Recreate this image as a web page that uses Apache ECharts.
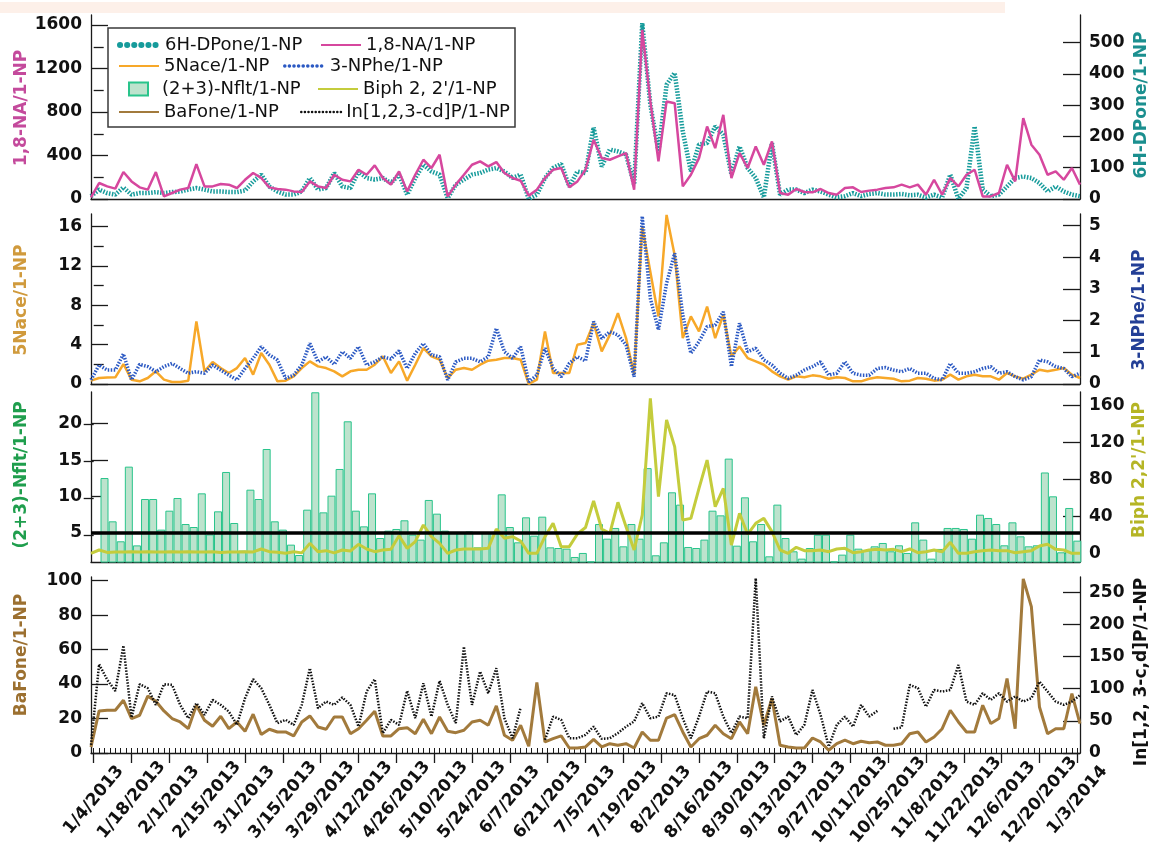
<!DOCTYPE html>
<html>
<head>
<meta charset="utf-8">
<script src="https://cdn.jsdelivr.net/npm/echarts@6/dist/echarts.min.js"></script>
<style>
  html, body { margin: 0; padding: 0; background: #fff; }
  #chart { width: 1161px; height: 852px; }
</style>
</head>
<body>
<div id="chart"></div>
<script>
// samples every 3 days; day 0 = 1/4/2013
const lineStart = -1, barStart = 4, step = 3;

// panel 1
const na18 = [15,147,116,95,248,162,107,86,248,24,
  55,86,101,321,116,116,138,132,101,177,
  239,193,107,92,86,70,64,162,116,101,
  223,177,162,269,223,309,193,132,254,70,
  223,361,285,407,24,132,223,315,346,300,
  340,239,193,168,31,86,193,269,285,107,
  162,269,545,376,361,392,422,86,1555,897,
  346,897,881,116,223,376,667,468,774,193,
  422,285,483,315,529,55,40,92,64,61,
  92,55,40,101,107,64,77,86,101,107,
  132,107,132,40,177,40,193,116,223,269,
  24,24,55,315,162,744,499,407,223,254,
  177,285,132];
const dpone = [9,30,19,14,37,14,19,19,22,19,
  22,24,30,35,30,24,24,22,22,27,
  56,78,40,24,14,14,24,67,30,35,
  83,40,35,88,67,62,67,51,78,14,
  67,110,88,78,3,46,62,78,83,94,
  99,88,67,78,0,14,67,99,112,40,
  88,83,229,104,158,152,142,46,562,301,
  152,365,403,216,88,174,179,232,206,78,
  168,99,67,5,179,14,30,30,19,30,
  24,14,5,9,19,9,16,19,14,14,
  16,12,14,5,14,5,78,0,35,232,
  30,9,14,40,67,72,67,51,24,40,
  24,14,9];

// panel 2
const nace = [0.34,0.61,0.65,0.68,2.03,0.44,0.27,0.61,1.29,0.44,
  0.2,0.2,0.34,6.36,1.29,2.23,1.62,1.12,1.62,2.64,
  0.95,3.15,1.96,0.27,0.34,0.78,1.62,2.3,1.79,1.62,
  1.29,0.78,1.29,1.45,1.45,1.96,2.81,1.12,2.3,0.34,
  1.96,3.65,2.81,2.47,0.61,1.45,1.62,1.45,1.96,2.37,
  2.47,2.64,2.64,2.47,0,0.44,5.35,1.12,1.12,1.12,
  3.99,4.16,6.19,3.32,5.0,7.2,4.67,0.95,16.0,11.4,
  6.87,17.2,13.1,4.67,6.87,5.35,7.88,4.67,7.04,2.81,
  3.82,2.64,2.3,1.96,1.29,0.78,0.44,0.78,0.68,0.88,
  0.78,0.54,0.68,0.61,0.27,0.27,0.54,0.68,0.61,0.54,
  0.27,0.34,0.61,0.54,0.34,0.44,0.95,0.44,0.78,0.95,
  0.78,0.78,0.44,1.12,0.78,0.54,0.95,1.45,1.29,1.45,
  1.62,0.95,0.61];
const nphe = [0.13,0.6,0.44,0.44,0.95,0.13,0.62,0.55,0.39,0.55,
  0.65,0.49,0.34,0.39,0.34,0.6,0.44,0.28,0.13,0.49,
  0.81,1.18,0.92,0.76,0.18,0.28,0.6,1.28,0.7,0.86,
  0.62,1.02,0.81,1.18,0.6,0.7,0.86,0.79,1.05,0.49,
  0.97,1.28,0.92,0.86,0.13,0.7,0.81,0.81,0.7,0.86,
  1.76,1.02,0.81,1.18,0.07,0.28,1.13,0.5,0.23,0.65,
  0.86,0.73,1.97,1.44,1.65,1.55,1.23,0.23,5.3,2.7,
  1.71,3.18,4.13,2.18,0.97,1.34,1.81,1.86,2.28,0.55,
  1.92,1.02,1.13,0.76,0.6,0.34,0.18,0.28,0.44,0.55,
  0.7,0.28,0.34,0.7,0.34,0.28,0.28,0.49,0.52,0.44,
  0.39,0.49,0.34,0.34,0.18,0.13,0.65,0.34,0.34,0.39,
  0.49,0.55,0.34,0.39,0.23,0.13,0.23,0.76,0.7,0.55,
  0.49,0.23,0.34];

// panel 3
const nflt = [12.54,6.6,3.86,14.1,3.3,9.66,9.66,5.46,8.06,9.8,
  6.23,5.82,10.44,4.8,7.97,13.37,6.37,2.58,10.94,9.66,
  16.52,6.6,5.46,3.4,1.98,8.2,24.3,7.83,10.12,13.78,
  20.32,8.06,5.91,10.44,4.31,5.32,5.55,6.74,4.77,4.09,
  9.53,7.65,5.32,5.0,5.0,5.2,3.03,5.0,5.1,10.3,
  5.82,3.72,7.15,4.63,7.24,3.03,2.94,2.85,1.71,
  2.26,1.1,6.23,4.22,5.69,3.17,6.23,4.22,13.9,1.94,
  3.72,10.58,8.89,3.08,2.94,4.09,8.06,7.42,15.2,3.26,
  9.89,3.86,6.23,1.8,8.89,4.31,2.49,1.48,2.94,4.77,
  4.77,1.1,2.03,4.77,2.85,2.62,3.17,3.63,2.49,3.31,
  2.26,6.46,4.09,1.48,2.81,5.69,5.69,5.55,4.22,7.51,
  7.06,6.23,3.31,6.46,4.54,3.17,3.31,13.3,10.03,2.35,
  8.43,3.95];
const biph = [0,3.6,1.0,1.5,1.5,1.8,1.5,1.8,1.5,1.5,
  1.8,1.5,1.8,1.5,1.5,1.8,1.0,1.5,1.5,1.8,
  1.5,4.7,1.8,1.1,0,1.8,0.5,10.8,1.8,2.9,
  0.5,3.6,2.5,9.8,4.7,1.8,3.6,4.3,19.1,5.4,
  12.6,30.7,18.1,10.8,0,3.6,4.7,4.7,4.7,5.4,
  26.4,16.3,18.1,13.4,0,0,18.1,32.5,7.2,7.2,
  21,28,56.7,26.4,21.7,55.3,28.9,3.6,41.5,168,
  61.4,144.5,115.6,36.1,37.9,70.4,101,50.6,70.4,9,
  43.3,20.6,32.5,37.9,23.5,3.6,0,6.5,2.9,2.9,
  3.6,1.8,4.7,5.4,0.7,1.8,3.6,4.3,3.6,4.3,
  1.8,4.7,0.7,1.8,3.6,1.8,11.9,0,0,1.8,
  2.9,3.6,2.9,2.9,0.7,1.8,2.9,7.9,9.8,4.3,
  3.6,0,0];

// panel 4
const bafone = [3.5,24.4,24.8,24.8,30.6,20,21.9,33,30,24.4,
  20,18,14.1,27.7,19,15.5,21.3,14.1,18,12.6,
  22.5,10.7,13.8,12.2,12.2,9.9,18,21.5,15.1,13.8,
  20.9,20.9,11.2,14.1,19,24.2,9.9,9.9,14.1,14.7,
  11.2,19.6,11.2,20.9,12.6,11.8,13.2,18,19,16.1,
  27.3,10.3,7.4,16.1,3.9,40.9,6.4,8.3,9.9,2.9,
  2.9,3.5,7.9,3.5,5.4,4.5,5.4,2.9,12.2,7.4,
  7.4,20.3,22.3,12.2,3.5,8.3,10.3,16.1,11.2,8.3,
  18,11.2,38.4,16.1,31.6,4.5,3.5,2.9,2.9,8.7,
  6.4,1.6,5.4,7.4,5.4,6.8,6,6.4,4.5,4.5,
  5.4,11.2,12.2,6.4,9.3,14.1,24.8,18,12.2,12.2,
  27.7,17.1,20,43.2,14.1,101,84.9,26.7,11.2,14.1,
  14.1,34.5,17.1];
const indeno = [12.7,138,114,96.6,167,55.2,107,100.8,74.9,107,
  106,74.9,54.1,77.5,59.3,82.6,74.9,64.5,43.8,85.2,
  114.8,100.8,74.9,46.4,51.6,43.8,74.9,131.9,69.7,80.1,
  74.9,86.3,74.9,41.2,95.6,114.8,30.8,51.6,43.8,96.6,
  54.1,108.5,56.7,112.2,74.9,46.4,165.5,74.9,126.7,93,
  131.9,54.1,23,70.7,null,null,20.5,56.7,51.6,23,
  23,28.2,41.2,22,23,31,41,49,77.5,54,
  56.7,93,90,54,23,56.7,95.6,93,56.7,31,
  56.7,54,272,23,88,49,56.7,28,43.8,98,
  59.3,10,43.8,56.7,41,74.9,56.7,65.5,null,37.6,
  40,106,101,72,98,95.6,98,137,80,74.9,
  93,82.6,93,80,88,80,85.2,111,95.6,80,
  74.9,80,90];

// tick labels
const dateTicks = [0,14,28,42,56,70,84,98,112,126,140,154,168,182,196,210,224,238,252,266,280,294,308,322,336,350,364];
const naTicks = [0,400,800,1200,1600], naMinor = [200,600,1000,1400];
const dpTicks = [0,100,200,300,400,500];
const naceTicks = [0,4,8,12,16], naceMinor = [2,6,10,14];
const npheTicks = [0,1,2,3,4,5];
const nfltTicks = [5,10,15,20];
const biphTicks = [0,40,80,120,160], biphMinor = [20,60,100,140];
const baTicks = [0,20,40,60,80,100];
const inTicks = [0,50,100,150,200,250];

const FONT = 'DejaVu Sans, Liberation Sans, Arial, sans-serif';
const AX = '#1a1a1a';

function days(start, n) { const d = []; for (let i = 0; i < n; i++) d.push(start + step * i); return d; }
const lineDays = days(lineStart, na18.length);
const barDays = days(barStart, nflt.length);
const pair = (xs, ys) => ys.map((v, i) => [xs[i], v]);

function fmtDay(v) {
  const d = new Date(Date.UTC(2013, 0, 4) + v * 864e5);
  return (d.getUTCMonth() + 1) + '/' + d.getUTCDate() + '/' + d.getUTCFullYear();
}

const grid = [
  {left: 91, width: 989, top: 15, height: 184},
  {left: 91, width: 989, top: 214, height: 170},
  {left: 91, width: 989, top: 392, height: 170},
  {left: 91, width: 989, top: 577, height: 176}
];

const xBase = {type: 'value', min: -1, max: 365, splitLine: {show: false}};
const xAxis = [0, 1, 2].map(g => Object.assign({}, xBase, {
  gridIndex: g,
  axisLine: {onZero: false, lineStyle: {color: AX, width: 1.3}},
  axisTick: {show: false}, axisLabel: {show: false}
}));
const minorDays = [];
for (let d = 0; d <= 364; d += 2) minorDays.push(d);
xAxis.push(Object.assign({}, xBase, {
  gridIndex: 3,
  axisLine: {onZero: false, lineStyle: {color: AX, width: 1.3}},
  axisTick: {show: true, length: 10, customValues: dateTicks, lineStyle: {color: AX, width: 1.3}},
  axisLabel: {show: true, customValues: dateTicks, rotate: 50, formatter: fmtDay, margin: 47,
    align: 'center', verticalAlign: 'middle',
    color: '#111', fontSize: 17, fontWeight: 'bold', fontFamily: FONT}
}));
xAxis.push(Object.assign({}, xBase, {
  gridIndex: 3,
  axisLine: {show: false},
  axisTick: {show: true, length: 5, customValues: minorDays, lineStyle: {color: AX, width: 1}},
  axisLabel: {show: false}
}));

const yAxis = [];
function addY(g, side, min, max, major, minor) {
  const base = {type: 'value', gridIndex: g, position: side, min: min, max: max, splitLine: {show: false}};
  yAxis.push(Object.assign({}, base, {
    axisLine: {show: true, onZero: false, lineStyle: {color: AX, width: 1.3}},
    axisTick: {show: true, inside: true, length: 17, customValues: major, lineStyle: {color: AX, width: 1.3}},
    axisLabel: {show: true, customValues: major, margin: 9, color: '#111', formatter: v => String(v),
      fontSize: 17, fontWeight: 'bold', fontFamily: FONT}
  }));
  const idx = yAxis.length - 1;
  if (minor) {
    yAxis.push(Object.assign({}, base, {
      axisLine: {show: false},
      axisTick: {show: true, inside: true, length: 10, customValues: minor, lineStyle: {color: AX, width: 1.3}},
      axisLabel: {show: false}
    }));
  }
  return idx;
}
const yNA = addY(0, 'left', 0, 1692, naTicks, naMinor);
const yDP = addY(0, 'right', 0, 588, dpTicks);
const yNace = addY(1, 'left', 0, 17.29, naceTicks, naceMinor);
const yNphe = addY(1, 'right', 0, 5.37, npheTicks);
const yNflt = addY(2, 'left', 1.02, 24.34, nfltTicks);
const yBiph = addY(2, 'right', -9.4, 174.8, biphTicks, biphMinor);
const yBa = addY(3, 'left', 0, 102.1, baTicks);
const yIn = addY(3, 'right', 0, 273.8, inTicks);

function line(name, xi, yi, data, color, width, type, z) {
  return {
    name: name, type: 'line', xAxisIndex: xi, yAxisIndex: yi,
    data: pair(lineDays, data), symbol: 'none', connectNulls: false, z: z || 2,
    lineStyle: {color: color, width: width, type: type || 'solid'},
    itemStyle: {color: color}
  };
}

const series = [
  line('6H-DPone/1-NP', 0, yDP, dpone, '#169b9b', 4.5, [1.5, 1.5], 2),
  line('1,8-NA/1-NP', 0, yNA, na18, '#d6479e', 2.5, 'solid', 3),
  line('5Nace/1-NP', 1, yNace, nace, '#f7a829', 2.5, 'solid', 2),
  line('3-NPhe/1-NP', 1, yNphe, nphe, '#2b59c3', 3.5, [1.5, 1.5], 3),
  {
    name: '(2+3)-Nflt/1-NP', type: 'bar', xAxisIndex: 2, yAxisIndex: yNflt,
    data: pair(barDays, nflt), barWidth: 8, z: 1,
    itemStyle: {color: '#bde3cd', borderColor: '#29c48b', borderWidth: 1},
    markLine: {silent: true, symbol: 'none', label: {show: false},
      lineStyle: {color: '#000', width: 3.5, type: 'solid'}, data: [{yAxis: 5}]}
  },
  line("Biph 2, 2'/1-NP", 2, yBiph, biph, '#c4cc3c', 3, 'solid', 3),
  line('BaFone/1-NP', 3, yBa, bafone, '#a27a3c', 3, 'solid', 2),
  line('In[1,2,3-cd]P/1-NP', 3, yIn, indeno, '#111', 2.5, [1.5, 1.5], 3)
];

// legend: [name, left, top, icon line style override]
const legendPos = [
  ['6H-DPone/1-NP', 117, 36, {width: 6, type: [0.1, 7], cap: 'round'}],
  ['1,8-NA/1-NP', 320, 36, null],
  ['5Nace/1-NP', 118, 57, null],
  ['3-NPhe/1-NP', 283, 57, {width: 3.5, type: [0.1, 4.5], cap: 'round'}],
  ['(2+3)-Nflt/1-NP', 128, 80, null],
  ["Biph 2, 2'/1-NP", 317, 80, null],
  ['BaFone/1-NP', 118, 103, null],
  ['In[1,2,3-cd]P/1-NP', 300, 103, {width: 2.5, type: [0.1, 3.5], cap: 'round'}]
];
const legend = legendPos.map(p => {
  const isBar = p[0] === '(2+3)-Nflt/1-NP';
  const l = {
    data: [p[0]], left: p[1], top: p[2], orient: 'horizontal', padding: 0, itemGap: 0,
    itemWidth: isBar ? 19 : 40, itemHeight: isBar ? 13 : 14, selectedMode: false,
    textStyle: {fontFamily: FONT, fontSize: 18, color: '#111', padding: isBar ? [0, 0, 0, 9] : 0}
  };
  if (isBar) l.icon = 'rect';
  else l.itemStyle = {opacity: 0};
  if (p[3]) l.lineStyle = p[3];
  return l;
});

function vtitle(text, x, y, color) {
  return {type: 'text', x: x, y: y, rotation: Math.PI / 2, z: 10,
    style: {text: text, fill: color, font: 'bold 17px ' + FONT, align: 'center', verticalAlign: 'middle'}};
}

const graphic = [
  {type: 'rect', shape: {x: 0, y: 2, width: 1005, height: 11}, style: {fill: '#fdf0e9'}, z: 0},
  {type: 'rect', shape: {x: 108, y: 28, width: 407, height: 99}, style: {fill: '#fff', stroke: '#3a3a3a', lineWidth: 1.5}, z: 3},
  vtitle('1,8-NA/1-NP', 22, 108, '#c44a9c'),
  vtitle('6H-DPone/1-NP', 1142, 105, '#1b8f8f'),
  vtitle('5Nace/1-NP', 22, 300, '#d09a3c'),
  vtitle('3-NPhe/1-NP', 1140, 310, '#233f96'),
  vtitle('(2+3)-Nflt/1-NP', 22, 475, '#1f9e4d'),
  vtitle("Biph 2,2'/1-NP", 1140, 470, '#b5b525'),
  vtitle('BaFone/1-NP', 22, 655, '#9c7030'),
  vtitle('In[1,2, 3-c,d]P/1-NP', 1142, 672, '#111')
];

const chart = echarts.init(document.getElementById('chart'));
chart.setOption({
  animation: false,
  backgroundColor: '#fff',
  grid: grid,
  xAxis: xAxis,
  yAxis: yAxis,
  legend: legend,
  graphic: graphic,
  series: series
});
</script>
</body>
</html>
